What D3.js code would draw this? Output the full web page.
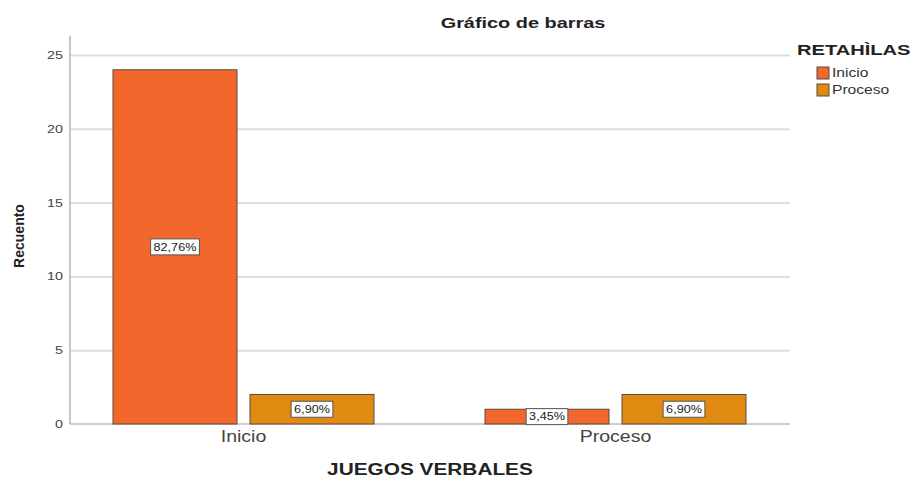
<!DOCTYPE html>
<html>
<head>
  <meta charset="utf-8">
  <title>Gráfico de barras</title>
  <script src="https://d3js.org/d3.v7.min.js"></script>
  <style>
    body { margin: 0; background: #fff; }
    svg { display: block; font-family: "Liberation Sans", Arial, sans-serif; }
    .grid line { stroke: #dedede; stroke-width: 2; }
    .grid path { stroke-width: 0; }
    .y-axis text { font-size: 11px; fill: #444; }
    .x-axis text { font-size: 16px; fill: #444; }
    .bar-label { font-size: 10.5px; fill: #222; }
  </style>
</head>
<body>
<div id="chart"></div>
<script>
  // Chart values
  const categories = ["Inicio", "Proceso"];          // JUEGOS VERBALES
  const seriesNames = ["Inicio", "Proceso"];         // RETAHÌLAS
  const inicioCounts = [24, 1];
  const procesoCounts = [2, 2];
  const inicioPct = ["82,76%", "3,45%"];
  const procesoPct = ["6,90%", "6,90%"];
  const yTicks = [0, 5, 10, 15, 20, 25];
  const colors = ["#F2672B", "#E08A12"];

  const rows = [];
  categories.forEach((c, i) => {
    rows.push({ cat: c, series: seriesNames[0], value: inicioCounts[i], label: inicioPct[i] });
    rows.push({ cat: c, series: seriesNames[1], value: procesoCounts[i], label: procesoPct[i] });
  });

  const W = 911, H = 479;
  const plot = { left: 70, right: 790, top: 36, bottom: 424 };

  // the original picture is stretched sideways, so text gets widened too
  function widen(sel, k = 1.3) {
    sel.each(function() {
      const w = this.getComputedTextLength();
      d3.select(this).attr("textLength", w * k).attr("lengthAdjust", "spacingAndGlyphs");
    });
  }

  const svg = d3.select("#chart").append("svg")
    .attr("width", W)
    .attr("height", H);

  const y = d3.scaleLinear().domain([0, 25]).range([plot.bottom, 55]);
  const x0 = d3.scaleBand().domain(categories).range([57.5, 801.5]);
  const x1 = d3.scaleBand().domain(seriesNames).range([-130.5, 130.5]).paddingInner(0.095);
  const color = d3.scaleOrdinal().domain(seriesNames).range(colors);

  // grid lines
  svg.append("g")
    .attr("class", "grid")
    .attr("transform", `translate(${plot.left},0)`)
    .call(d3.axisLeft(y).tickValues(yTicks.filter(t => t > 0)).tickSize(-(plot.right - plot.left)).tickFormat(""));

  // baseline
  svg.append("line")
    .attr("x1", plot.left).attr("x2", plot.right)
    .attr("y1", plot.bottom).attr("y2", plot.bottom)
    .attr("stroke", "#cfcfcf").attr("stroke-width", 2);

  // y axis
  const yAxis = svg.append("g")
    .attr("class", "y-axis")
    .attr("transform", `translate(${plot.left},0)`)
    .call(d3.axisLeft(y).tickValues(yTicks).tickSize(0).tickPadding(7));
  yAxis.select(".domain").remove();
  widen(yAxis.selectAll("text"));
  svg.append("line")
    .attr("x1", plot.left).attr("x2", plot.left)
    .attr("y1", plot.top).attr("y2", plot.bottom)
    .attr("stroke", "#b5b5b5").attr("stroke-width", 1.5);

  // bars
  const bars = svg.selectAll(".bar")
    .data(rows)
    .enter().append("g")
    .attr("class", "bar");

  bars.append("rect")
    .attr("x", d => x0(d.cat) + x0.bandwidth() / 2 + x1(d.series))
    .attr("y", d => y(d.value))
    .attr("width", x1.bandwidth())
    .attr("height", d => y(0) - y(d.value))
    .attr("fill", d => color(d.series))
    .attr("stroke", "#5a4a40")
    .attr("stroke-width", 1);

  // percentage labels in white boxes
  bars.each(function(d) {
    const g = d3.select(this);
    const cx = x0(d.cat) + x0.bandwidth() / 2 + x1(d.series) + x1.bandwidth() / 2;
    const cy = (y(d.value) + y(0)) / 2;
    const t = g.append("text")
      .attr("class", "bar-label")
      .attr("x", cx)
      .attr("y", cy)
      .attr("dy", "0.36em")
      .attr("text-anchor", "middle")
      .text(d.label);
    const w = t.node().getComputedTextLength() * 1.2;
    widen(t, 1.2);
    g.insert("rect", "text")
      .attr("x", cx - w / 2 - 3)
      .attr("y", cy - 8)
      .attr("width", w + 6)
      .attr("height", 16)
      .attr("fill", "#fff")
      .attr("stroke", "#555")
      .attr("stroke-width", 1);
  });

  // x axis category labels
  const xAxis = svg.append("g")
    .attr("class", "x-axis")
    .attr("transform", `translate(0,${plot.bottom})`)
    .call(d3.axisBottom(x0).tickSize(0).tickPadding(7));
  xAxis.select(".domain").remove();
  widen(xAxis.selectAll("text"), 1.22);

  // axis titles
  svg.append("text")
    .attr("x", 430).attr("y", 475)
    .attr("text-anchor", "middle")
    .style("font-size", "16px").style("font-weight", "bold").style("fill", "#222")
    .text("JUEGOS VERBALES")
    .call(widen);

  svg.append("text")
    .attr("transform", "translate(24,236) rotate(-90)")
    .attr("text-anchor", "middle")
    .style("font-size", "14px").style("fill", "#222")
    .style("font-weight", "bold")
    .text("Recuento");

  // title
  svg.append("text")
    .attr("x", 523).attr("y", 28)
    .attr("text-anchor", "middle")
    .style("font-size", "14px").style("font-weight", "bold").style("fill", "#222")
    .text("Gráfico de barras")
    .call(widen, 1.42);

  // legend
  svg.append("text")
    .attr("x", 797).attr("y", 55)
    .style("font-size", "15px").style("font-weight", "bold").style("fill", "#222")
    .text("RETAHÌLAS")
    .call(widen, 1.34);

  const legend = svg.selectAll(".legend")
    .data(seriesNames)
    .enter().append("g")
    .attr("class", "legend")
    .attr("transform", (d, i) => `translate(817,${67 + i * 17})`);

  legend.append("rect")
    .attr("width", 12).attr("height", 12)
    .attr("fill", d => color(d))
    .attr("stroke", "#5a4a40");

  legend.append("text")
    .attr("x", 15).attr("y", 6)
    .attr("dy", "0.35em")
    .style("font-size", "12px").style("fill", "#333")
    .text(d => d)
    .call(widen);
</script>
</body>
</html>
